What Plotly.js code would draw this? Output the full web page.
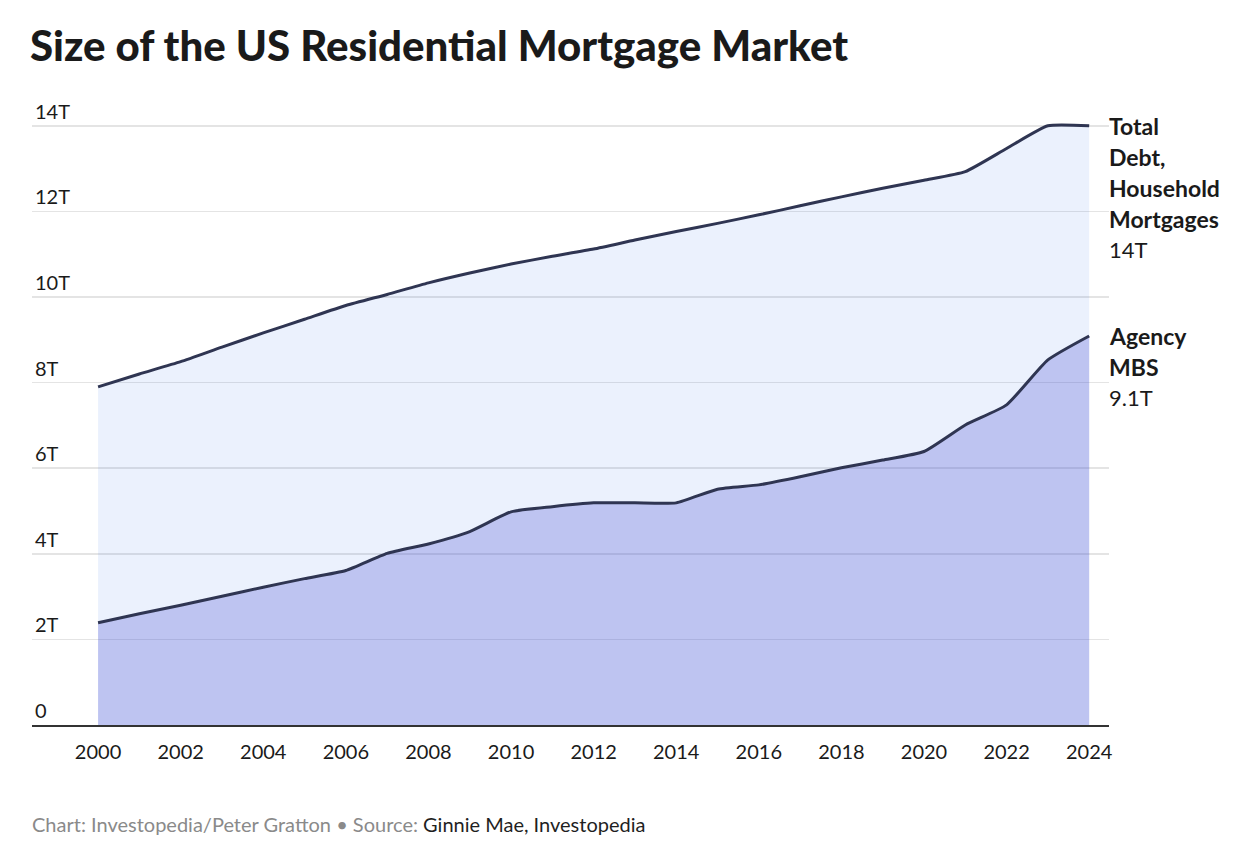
<!DOCTYPE html>
<html>
<head>
<meta charset="utf-8">
<script src="https://cdn.plot.ly/plotly-3.0.1.min.js"></script>
<style>
  html, body { margin: 0; padding: 0; background: #ffffff; }
  #chart { width: 1234px; height: 860px; }
</style>
</head>
<body>
<div id="chart"></div>
<script>
// Years
var years = [2000, 2001, 2002, 2003, 2004, 2005, 2006, 2007, 2008, 2009, 2010, 2011, 2012,
             2013, 2014, 2015, 2016, 2017, 2018, 2019, 2020, 2021, 2022, 2023, 2024];

// Total Debt, Household Mortgages (trillions USD)
var totalDebt = [7.90, 8.20, 8.49, 8.83, 9.16, 9.48, 9.80, 10.06, 10.33, 10.56, 10.77, 10.95, 11.12,
                 11.33, 11.53, 11.72, 11.92, 12.13, 12.34, 12.54, 12.73, 12.93, 13.47, 14.00, 14.00];

// Agency MBS (trillions USD)
var agencyMBS = [2.39, 2.60, 2.80, 3.01, 3.22, 3.42, 3.61, 4.01, 4.23, 4.52, 4.98, 5.10, 5.19,
                 5.19, 5.19, 5.51, 5.61, 5.80, 6.01, 6.19, 6.39, 7.01, 7.48, 8.53, 9.09];

// Axis ticks
var yTickVals = [0, 2, 4, 6, 8, 10, 12, 14];
var yTickText = ["0", "2T", "4T", "6T", "8T", "10T", "12T", "14T"];
var xTickVals = [2000, 2002, 2004, 2006, 2008, 2010, 2012, 2014, 2016, 2018, 2020, 2022, 2024];

// Series labels
var totalLabelLines = ["Total", "Debt,", "Household", "Mortgages"];
var totalValueLabel = "14T";
var mbsLabelLines = ["Agency", "MBS"];
var mbsValueLabel = "9.1T";

var FONT = "Lato, 'Source Sans Pro', 'Noto Sans', sans-serif";
var lineColor = "#2f3552";

var traces = [
  {
    x: years, y: agencyMBS, type: "scatter", mode: "lines",
    line: { color: lineColor, width: 3, shape: "spline", smoothing: 0.5 },
    fill: "tozeroy", fillcolor: "rgba(69,86,215,0.35)",
    hoverinfo: "skip", showlegend: false
  },
  {
    x: years, y: totalDebt, type: "scatter", mode: "lines",
    line: { color: lineColor, width: 3, shape: "spline", smoothing: 0.5 },
    fill: "tonexty", fillcolor: "rgba(60,120,240,0.10)",
    hoverinfo: "skip", showlegend: false
  }
];

var annotations = [];
var lastIdx = years.length - 1;
function addLabel(lines, valueText, yVal) {
  var step = 31;
  lines.forEach(function (t, i) {
    annotations.push({
      xref: "paper", x: 1, xanchor: "left", xshift: -2,
      yref: "y", y: yVal, yanchor: "middle", yshift: -step * i,
      text: t, showarrow: false, align: "left",
      font: { family: FONT, size: 23, color: "#1a1a1a", weight: 700 }
    });
  });
  annotations.push({
    xref: "paper", x: 1, xanchor: "left", xshift: -2,
    yref: "y", y: yVal, yanchor: "middle", yshift: -step * lines.length,
    text: valueText, showarrow: false, align: "left",
    font: { family: FONT, size: 22, color: "#1a1a1a", weight: 400 }
  });
}
addLabel(totalLabelLines, totalValueLabel, totalDebt[lastIdx]);
addLabel(mbsLabelLines, mbsValueLabel, agencyMBS[lastIdx]);

annotations.push({
  xref: "paper", x: 0, xanchor: "left", xshift: -2,
  yref: "paper", y: -99 / 642, yanchor: "middle",
  showarrow: false, align: "left",
  text: "<span style='color:#8a8a8a'>Chart: Investopedia/Peter Gratton • Source: </span><span style='color:#1f1f1f'>Ginnie Mae, Investopedia</span>",
  font: { family: FONT, size: 20, color: "#8a8a8a" }
});

var layout = {
  width: 1234, height: 860,
  paper_bgcolor: "#ffffff", plot_bgcolor: "#ffffff",
  margin: { l: 32, r: 125, t: 83, b: 135 },
  title: {
    text: "Size of the US Residential Mortgage Market",
    xref: "container", x: 30 / 1234, xanchor: "left",
    yref: "container", y: 1 - 46 / 860, yanchor: "middle",
    font: { family: FONT, size: 42, color: "#1a1a1a", weight: 900 }
  },
  xaxis: {
    range: [1998.40, 2024.48],
    tickvals: xTickVals,
    ticktext: xTickVals.map(String),
    showgrid: false, zeroline: false,
    showline: true, linecolor: "#333333", linewidth: 2,
    ticks: "", ticklen: 0,
    ticklabelstandoff: 8,
    tickfont: { family: FONT, size: 20, color: "#1a1a1a" },
    fixedrange: true
  },
  yaxis: {
    range: [0, 15],
    tickvals: yTickVals, ticktext: yTickText,
    showgrid: true, gridcolor: "#e4e4e4", gridwidth: 1.5,
    zeroline: false, showline: false, ticks: "",
    ticklabelposition: "inside top",
    tickfont: { family: FONT, size: 20, color: "#1a1a1a" },
    fixedrange: true
  },
  annotations: annotations,
  hovermode: false
};

Plotly.newPlot("chart", traces, layout, { displayModeBar: false, staticPlot: true });
</script>
</body>
</html>
